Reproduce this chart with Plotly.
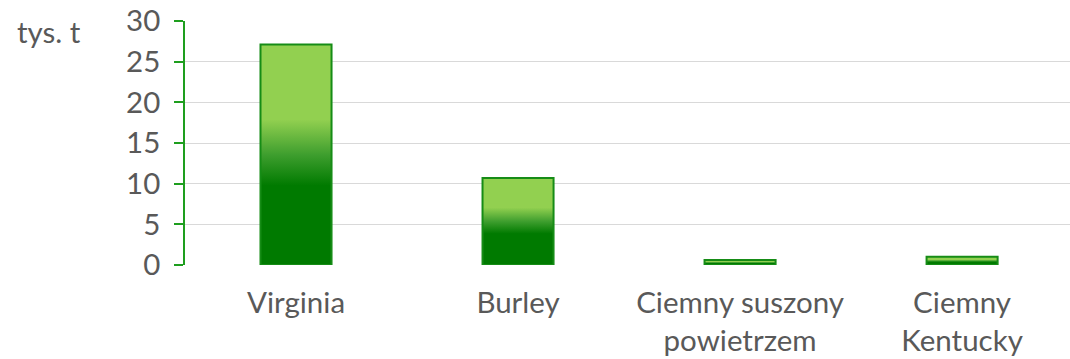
import plotly.graph_objects as go

categories = ["Virginia", "Burley", "Ciemny suszony<br>powietrzem", "Ciemny<br>Kentucky"]
values = [27.1, 10.7, 0.6, 1.0]
y_ticks = [0, 5, 10, 15, 20, 25, 30]
y_unit = "tys. t"

BAR_W = 0.32
DARK = "#007A00"
LIGHT = "#92D050"
EDGE = "#168C16"
TXT = "#595959"
FONT = "Lato"
FS = 29.5

fig = go.Figure()
xs = list(range(len(categories)))
for i, v in zip(xs, values):
    fig.add_trace(go.Scatter(
        x=[i - BAR_W / 2, i + BAR_W / 2, i + BAR_W / 2, i - BAR_W / 2, i - BAR_W / 2],
        y=[0, 0, v, v, 0],
        mode="lines", line=dict(width=2, color=EDGE), fill="toself",
        fillgradient=dict(type="vertical",
                          colorscale=[[0, DARK], [0.36, DARK], [0.5, "#3E9E2E"], [0.66, LIGHT], [1, LIGHT]]),
        hovertemplate=f"{categories[i]}: {v}<extra></extra>", showlegend=False))

fig.update_layout(
    width=1070, height=359,
    margin=dict(l=185, r=0, t=21, b=94),
    paper_bgcolor="white", plot_bgcolor="white",
    font=dict(family=FONT, size=FS, color=TXT),
    xaxis=dict(range=[-0.5, 3.486], tickvals=xs, ticktext=categories,
               showgrid=False, zeroline=False, showline=False, ticks="",
               ticklabelstandoff=17, tickfont=dict(size=FS, color=TXT)),
    yaxis=dict(range=[0, 30], tickvals=y_ticks, showgrid=True, gridcolor="#D9D9D9", gridwidth=1,
               zeroline=False, showline=True, linecolor="#1E9E1E", linewidth=1.5,
               ticks="outside", ticklen=9, tickcolor="#1E9E1E", tickwidth=1.5,
               ticklabelstandoff=8, tickfont=dict(size=FS, color=TXT)),
    annotations=[dict(text=y_unit, xref="paper", yref="paper", x=-0.19, y=1.0,
                      xanchor="left", yanchor="middle", xshift=-2, yshift=-10, showarrow=False,
                      font=dict(size=FS, color=TXT))],
)
fig.write_html("out.html")
